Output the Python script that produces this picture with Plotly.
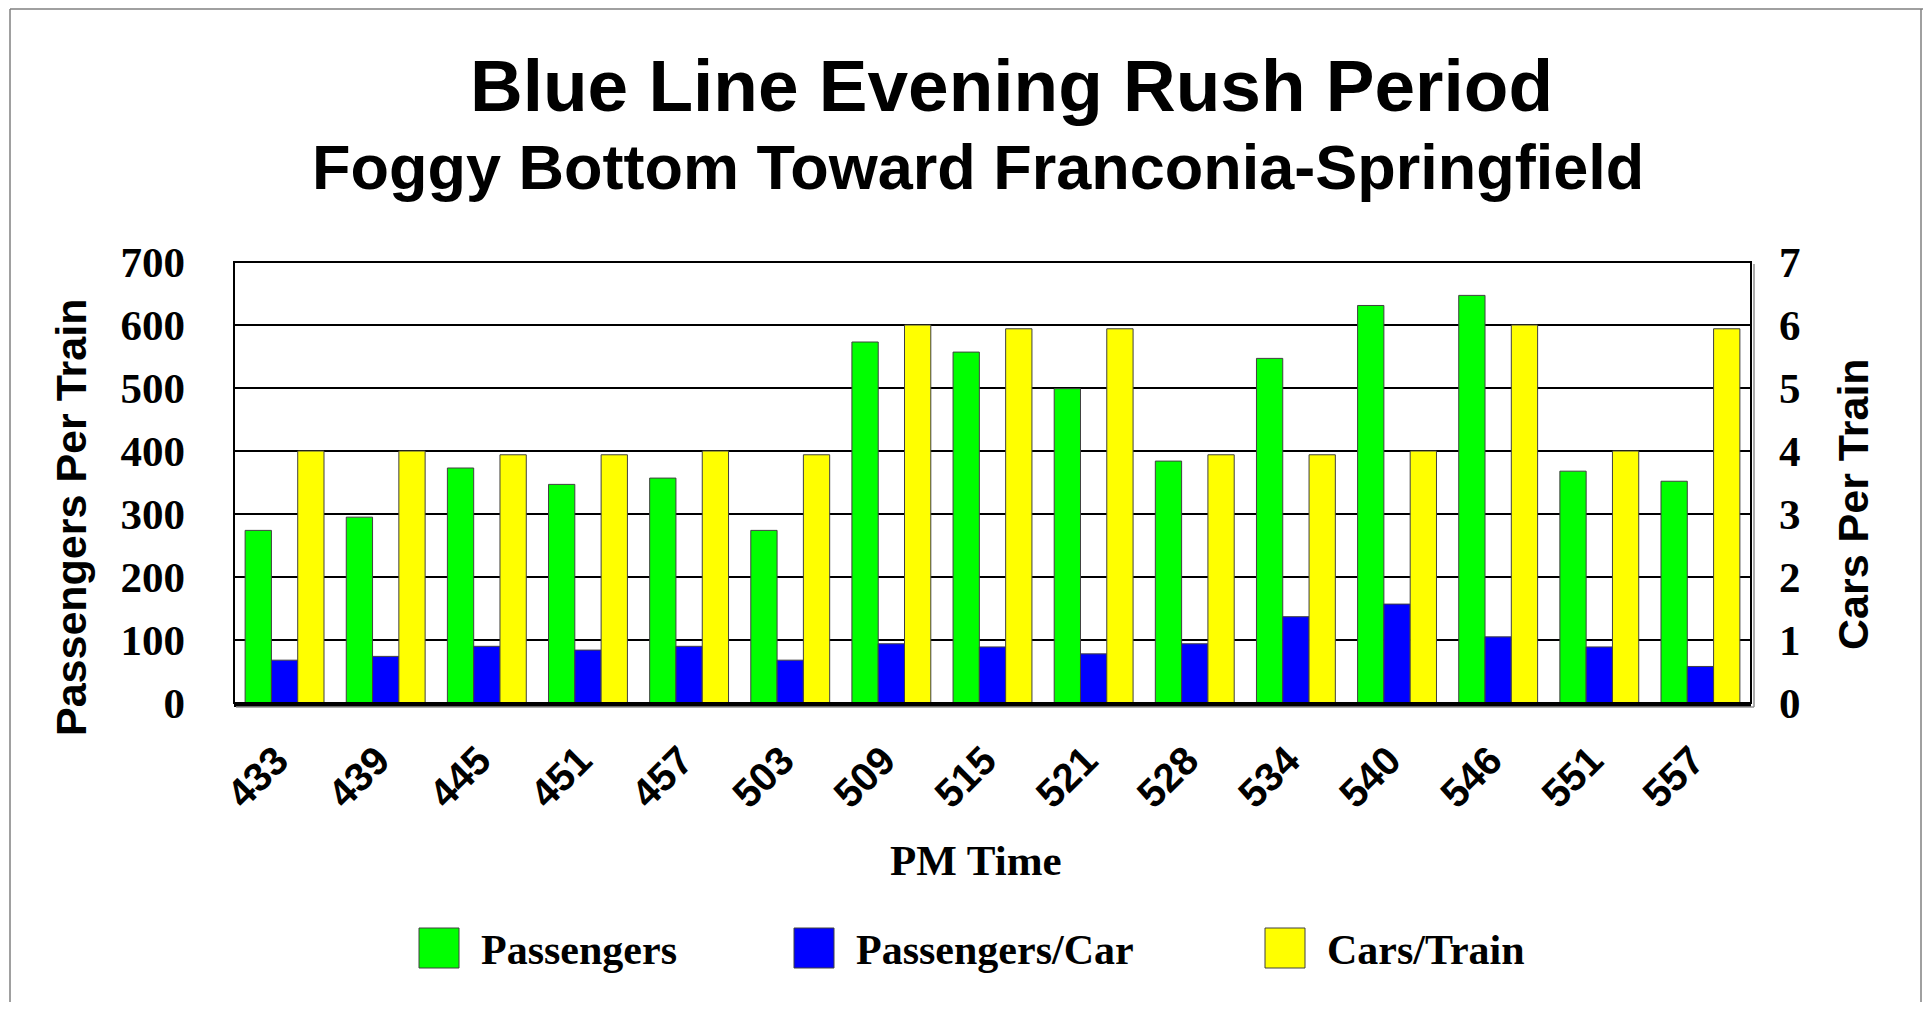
import plotly.graph_objects as go

# --- data ---
times = ["433", "439", "445", "451", "457", "503", "509", "515",
         "521", "528", "534", "540", "546", "551", "557"]
passengers = [274, 295, 373, 347, 357, 274, 573, 557, 499, 384, 547, 631, 647, 368, 352]
passengers_per_car = [68, 74, 90, 84, 90, 68, 94, 89, 78, 94, 137, 157, 105, 89, 58]
cars_per_train = [4, 4, 3.94, 3.94, 4, 3.94, 6, 5.94, 5.94, 3.94, 3.94, 4, 6, 4, 5.94]

series_names = ["Passengers", "Passengers/Car", "Cars/Train"]
series_colors = ["#00FF00", "#0000FF", "#FFFF00"]

left_ticks = [0, 100, 200, 300, 400, 500, 600, 700]
right_ticks = [0, 1, 2, 3, 4, 5, 6, 7]

title_1 = "Blue Line Evening Rush Period"
title_2 = "Foggy Bottom Toward Franconia-Springfield"

# --- page geometry (screen pixels; the page body has an 8px margin) ---
BODY = 8
W, H = 1931 - 2 * BODY, 1010 - 2 * BODY
PL, PR, PT, PB = 234, 1751, 262, 703

SANS = "Liberation Sans, Arial, sans-serif"
SERIF = "Liberation Serif, Times New Roman, serif"


def px(x):
    return (x - PL) / (PR - PL)


def py(y):
    return (PB - y) / (PB - PT)


outline = dict(color="#404040", width=1)
fig = go.Figure()
fig.add_trace(go.Bar(x=times, y=passengers, name=series_names[0], yaxis="y",
                     width=0.26, offset=-0.39,
                     marker=dict(color=series_colors[0], line=outline)))
fig.add_trace(go.Bar(x=times, y=passengers_per_car, name=series_names[1], yaxis="y",
                     width=0.26, offset=-0.13,
                     marker=dict(color=series_colors[1], line=outline)))
fig.add_trace(go.Bar(x=times, y=cars_per_train, name=series_names[2], yaxis="y2",
                     width=0.26, offset=0.13,
                     marker=dict(color=series_colors[2], line=outline)))

annotations = [
    dict(text=title_1, x=px(1011), y=py(85), font=dict(family=SANS, size=73, color="black")),
    dict(text=title_2, x=px(978), y=py(167), font=dict(family=SANS, size=63, color="black")),
    dict(text="Passengers Per Train", x=px(71), y=py(518), textangle=-90,
         font=dict(family=SANS, size=43, color="black")),
    dict(text="Cars Per Train", x=px(1853), y=py(504), textangle=-90,
         font=dict(family=SANS, size=43, color="black")),
    dict(text="PM Time", x=px(976), y=py(860), font=dict(family=SERIF, size=43, color="black")),
]
for a in annotations:
    a["text"] = "<b>" + a["text"] + "</b>"
    a.update(xref="paper", yref="paper", showarrow=False, xanchor="center", yanchor="middle")

grey = dict(color="#808080", width=1.5)
shapes = [
    # outer page frame (open at the bottom, as in the reference)
    dict(type="line", xref="paper", yref="paper", x0=px(10), x1=px(10), y0=py(1020), y1=py(9), line=grey),
    dict(type="line", xref="paper", yref="paper", x0=px(10), x1=px(1923), y0=py(9), y1=py(9), line=grey),
    dict(type="line", xref="paper", yref="paper", x0=px(1921), x1=px(1921), y0=py(1020), y1=py(9), line=grey),
    # plot frame
    dict(type="rect", xref="paper", yref="paper", x0=0, x1=1, y0=0, y1=1,
         line=dict(color="black", width=2)),
    dict(type="line", xref="paper", yref="paper", x0=px(PL + 2), x1=px(PR + 3), y0=py(PB + 4), y1=py(PB + 4),
         line=dict(color="#909090", width=1.5)),
    dict(type="line", xref="paper", yref="paper", x0=px(PR + 3), x1=px(PR + 3), y0=py(PT + 2), y1=py(PB + 4),
         line=dict(color="#909090", width=1.5)),
]

# hand-drawn legend with large swatches
legend_x = [419, 794, 1265]
for name, color, lx in zip(series_names, series_colors, legend_x):
    shapes.append(dict(type="rect", xref="paper", yref="paper",
                       x0=px(lx), x1=px(lx + 40), y0=py(968), y1=py(928),
                       fillcolor=color, line=dict(color="#404040", width=1)))
    annotations.append(dict(text="<b>" + name + "</b>", xref="paper", yref="paper",
                            x=px(lx + 60), y=py(950), xanchor="left", yanchor="middle",
                            showarrow=False, font=dict(family=SERIF, size=42, color="black")))

fig.update_layout(
    width=W, height=H,
    margin=dict(l=PL - BODY, r=W + BODY - PR, t=PT - BODY, b=H + BODY - PB, pad=0),
    paper_bgcolor="white", plot_bgcolor="white",
    showlegend=False,
    barmode="overlay",
    annotations=annotations,
    shapes=shapes,
    xaxis=dict(
        type="category", range=[-0.5, len(times) - 0.5],
        tickmode="array", tickvals=times,
        ticktext=[t + "\u00a0" for t in times],  # trailing space nudges the slanted label left
        tickangle=-45, ticks="", ticklabelstandoff=6,
        tickfont=dict(family=SANS, size=40, color="black", weight="bold"),
        showline=True, linecolor="black", linewidth=4, showgrid=False,
    ),
    yaxis=dict(
        range=[0, 700], tickvals=left_ticks, ticks="", ticklabelstandoff=48,
        tickfont=dict(family=SERIF, size=43, color="black", weight="bold"),
        showgrid=True, gridcolor="black", gridwidth=1.5, zeroline=False, showline=False,
    ),
    yaxis2=dict(
        range=[0, 7], tickvals=right_ticks, ticks="", ticklabelstandoff=27,
        overlaying="y", side="right",
        tickfont=dict(family=SERIF, size=43, color="black", weight="bold"),
        showgrid=False, zeroline=False, showline=False,
    ),
)

fig.write_html("out.html")
